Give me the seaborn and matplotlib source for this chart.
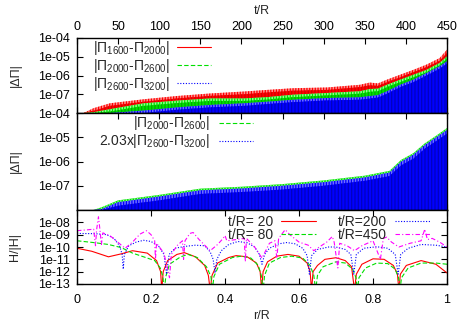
import numpy as np
import pandas as pd
import matplotlib
matplotlib.use("Agg")
import matplotlib.pyplot as plt
import seaborn as sns
from matplotlib.lines import Line2D
from matplotlib.ticker import FixedLocator, LogLocator, NullFormatter, FuncFormatter

sns.set_style("ticks")
plt.rcParams['font.family'] = ['Liberation Sans', 'DejaVu Sans']
plt.rcParams['mathtext.fontset'] = 'custom'
plt.rcParams['mathtext.rm'] = 'Liberation Sans'
plt.rcParams['mathtext.it'] = 'Liberation Sans:italic'
plt.rcParams['font.size'] = 9
plt.rcParams['hatch.linewidth'] = 0.9

# ---------------- top panel: |dPi| vs t/R (envelopes of the dense spikes) ----------------
t_top = [8, 20, 40, 81, 122, 162, 203, 231, 263, 304, 344, 356, 366, 377, 393, 409, 425, 441, 450]
red_tip = [1.0e-8, 1.8e-8, 3.3e-8, 5.4e-8, 8.1e-8, 1.1e-7, 1.4e-7, 1.7e-7, 2.1e-7, 2.3e-7,
           3.2e-7, 4.2e-7, 3.8e-7, 6.0e-7, 1.1e-6, 2.0e-6, 3.8e-6, 8.5e-6, 2.4e-5]
red_core = [1.0e-8, 1.3e-8, 2.4e-8, 4.0e-8, 6.0e-8, 8.2e-8, 1.0e-7, 1.25e-7, 1.55e-7, 1.7e-7,
            2.4e-7, 3.0e-7, 2.8e-7, 4.4e-7, 8.0e-7, 1.5e-6, 2.8e-6, 6.0e-6, 1.6e-5]
green_tip = [1.0e-8, 1.1e-8, 1.6e-8, 3.3e-8, 4.6e-8, 6.0e-8, 6.0e-8, 7.0e-8, 9.5e-8, 1.17e-7,
             1.45e-7, 1.9e-7, 2.0e-7, 3.2e-7, 6.0e-7, 1.1e-6, 2.0e-6, 4.7e-6, 1.05e-5]
green_core = [1.0e-8, 1.0e-8, 1.2e-8, 2.4e-8, 3.4e-8, 4.4e-8, 4.4e-8, 5.2e-8, 7.0e-8, 8.7e-8,
              1.07e-7, 1.35e-7, 1.45e-7, 2.4e-7, 4.4e-7, 8.0e-7, 1.5e-6, 3.5e-6, 7.8e-6]
blue_tip = [1.0e-8, 1.0e-8, 1.0e-8, 1.35e-8, 2.0e-8, 2.7e-8, 3.3e-8, 4.0e-8, 5.1e-8, 6.3e-8,
            6.9e-8, 8.0e-8, 9.0e-8, 1.45e-7, 3.2e-7, 6.0e-7, 1.35e-6, 3.1e-6, 5.8e-6]
blue_core = [1.0e-8, 1.0e-8, 1.0e-8, 1.0e-8, 1.5e-8, 2.0e-8, 2.4e-8, 3.0e-8, 3.8e-8, 4.7e-8,
             5.1e-8, 5.9e-8, 6.7e-8, 1.07e-7, 2.4e-7, 4.4e-7, 1.0e-6, 2.3e-6, 4.3e-6]

# ---------------- middle panel ----------------
t_mid = [20, 30, 50, 100, 150, 200, 250, 300, 350, 380, 394, 409, 423, 438, 450]
green_mid_tip = [1.0e-8, 1.3e-8, 2.5e-8, 4.2e-8, 7.6e-8, 9.1e-8, 1.17e-7, 1.66e-7, 2.6e-7,
                 4.1e-7, 1.15e-6, 2.2e-6, 5.6e-6, 1.23e-5, 2.4e-5]
blue_mid_tip = [1.0e-8, 1.1e-8, 2.1e-8, 3.6e-8, 6.5e-8, 7.7e-8, 1.0e-7, 1.4e-7, 2.2e-7,
                3.5e-7, 9.8e-7, 1.9e-6, 4.8e-6, 1.05e-5, 2.0e-5]
blue_mid_core = [1.0e-8, 1.0e-8, 1.5e-8, 2.5e-8, 4.6e-8, 5.5e-8, 7.0e-8, 1.0e-7, 1.6e-7,
                 2.5e-7, 6.9e-7, 1.3e-6, 3.4e-6, 7.4e-6, 1.4e-5]

# ---------------- bottom panel: H/|H| vs r/R ----------------
r_20 = [0.0, 0.04, 0.085, 0.12, 0.15, 0.19, 0.215, 0.226, 0.229, 0.233, 0.245, 0.27, 0.29, 0.32,
        0.345, 0.355, 0.36, 0.365, 0.38, 0.41, 0.43, 0.46, 0.485, 0.495, 0.499, 0.503, 0.515,
        0.54, 0.57, 0.60, 0.622, 0.63, 0.634, 0.638, 0.65, 0.67, 0.70, 0.725, 0.742, 0.75,
        0.755, 0.77, 0.80, 0.83, 0.855, 0.866, 0.870, 0.874, 0.89, 0.93, 0.97, 1.0]
h_20 = [7.9e-11, 4.5e-11, 1.6e-11, 2.8e-11, 5.0e-11, 3.2e-11, 7.9e-12, 1.0e-12, 3.2e-14, 1.0e-12,
        7.9e-12, 2.5e-11, 3.5e-11, 1.6e-11, 3.2e-12, 5.0e-13, 3.2e-14, 5.0e-13, 5.0e-12, 1.4e-11,
        2.0e-11, 1.6e-11, 5.0e-12, 1.0e-12, 3.2e-14, 1.0e-12, 6.3e-12, 1.8e-11, 2.5e-11, 1.8e-11,
        5.0e-12, 1.0e-12, 3.2e-14, 1.0e-12, 3.2e-12, 1.0e-11, 1.35e-11, 7.9e-12, 2.5e-12, 3.2e-14,
        6.3e-13, 4.0e-12, 1.1e-11, 1.0e-11, 3.2e-12, 6.3e-13, 3.2e-14, 6.3e-13, 3.2e-12, 7.9e-12,
        4.0e-12, 7.9e-13]

r_80 = [0.0, 0.05, 0.085, 0.12, 0.15, 0.18, 0.21, 0.225, 0.232, 0.236, 0.240, 0.25, 0.28, 0.30,
        0.325, 0.35, 0.362, 0.366, 0.37, 0.385, 0.42, 0.445, 0.47, 0.49, 0.498, 0.503, 0.507,
        0.52, 0.55, 0.58, 0.61, 0.63, 0.64, 0.645, 0.65, 0.665, 0.70, 0.725, 0.745, 0.754,
        0.758, 0.762, 0.78, 0.81, 0.84, 0.86, 0.869, 0.873, 0.877, 0.895, 0.93, 0.97, 1.0]
h_80 = [3.2e-10, 2.2e-10, 1.6e-10, 8.9e-11, 3.2e-11, 1.6e-11, 7.9e-12, 2.0e-12, 4.0e-13, 3.2e-14,
        4.0e-13, 4.0e-12, 1.6e-11, 2.5e-11, 1.4e-11, 2.5e-12, 4.0e-13, 3.2e-14, 4.0e-13, 4.0e-12,
        1.4e-11, 1.8e-11, 1.26e-11, 3.2e-12, 5.0e-13, 3.2e-14, 5.0e-13, 5.0e-12, 1.4e-11, 1.8e-11,
        1.26e-11, 3.2e-12, 5.0e-13, 3.2e-14, 5.0e-13, 2.5e-12, 6.3e-12, 5.0e-12, 1.6e-12, 3.2e-13,
        3.2e-14, 3.2e-13, 2.0e-12, 5.0e-12, 4.5e-12, 1.6e-12, 3.2e-13, 3.2e-14, 3.2e-13, 2.0e-12,
        5.0e-12, 5.0e-12, 4.0e-12]

r_200 = [0.0, 0.05, 0.08, 0.10, 0.115, 0.122, 0.125, 0.128, 0.14, 0.16, 0.18, 0.20, 0.22, 0.235,
         0.242, 0.249, 0.265, 0.29, 0.32, 0.345, 0.36, 0.368, 0.373, 0.378, 0.39, 0.41, 0.435,
         0.46, 0.48, 0.493, 0.5, 0.507, 0.52, 0.545, 0.567, 0.59, 0.61, 0.622, 0.628, 0.634,
         0.65, 0.68, 0.70, 0.725, 0.74, 0.748, 0.755, 0.775, 0.81, 0.84, 0.86, 0.868, 0.875,
         0.895, 0.93, 0.97, 1.0]
h_200 = [1.26e-9, 1.2e-9, 1.0e-9, 5.0e-10, 1.26e-10, 2.5e-11, 1.6e-12, 2.5e-11, 1.26e-10, 2.5e-10,
         3.5e-10, 2.8e-10, 1.26e-10, 2.5e-11, 6.3e-13, 2.5e-11, 7.9e-11, 1.1e-10, 1.4e-10, 1.26e-10,
         4.0e-11, 1.0e-11, 7.9e-13, 1.0e-11, 5.0e-11, 1.6e-10, 2.8e-10, 2.2e-10, 1.0e-10, 2.5e-11,
         4.0e-12, 2.5e-11, 7.9e-11, 1.8e-10, 2.3e-10, 1.8e-10, 7.9e-11, 2.0e-11, 6.3e-13, 2.0e-11,
         6.3e-11, 1.0e-10, 1.0e-10, 6.3e-11, 2.5e-11, 6.3e-13, 2.5e-11, 7.9e-11, 1.05e-10, 7.9e-11,
         2.5e-11, 6.3e-13, 2.5e-11, 7.9e-11, 1.6e-10, 1.4e-10, 1.0e-10]

r_450 = [0.0, 0.03, 0.045, 0.05, 0.053, 0.058, 0.062, 0.066, 0.07, 0.09, 0.11, 0.13, 0.15, 0.17,
         0.188, 0.20, 0.21, 0.212, 0.215, 0.235, 0.25, 0.255, 0.27, 0.285, 0.288, 0.292, 0.305,
         0.314, 0.33, 0.36, 0.38, 0.395, 0.40, 0.405, 0.43, 0.452, 0.455, 0.458, 0.48, 0.50,
         0.52, 0.535, 0.54, 0.545, 0.56, 0.563, 0.575, 0.60, 0.625, 0.64, 0.66, 0.675, 0.69,
         0.695, 0.705, 0.71, 0.73, 0.75, 0.77, 0.80, 0.82, 0.828, 0.837, 0.85, 0.87, 0.90,
         0.93, 0.94, 0.947, 0.96, 0.98, 1.0]
h_450 = [2.1e-9, 2.5e-9, 2.8e-9, 1.26e-10, 2.5e-9, 2.8e-8, 2.5e-9, 1.6e-10, 1.4e-9, 7.9e-10,
         2.5e-10, 7.9e-11, 2.5e-10, 1.1e-9, 2.1e-9, 1.0e-9, 3.2e-10, 1.0e-11, 2.0e-10, 3.2e-11,
         3.2e-13, 2.5e-11, 1.26e-10, 3.2e-10, 1.0e-11, 3.2e-10, 1.26e-9, 1.5e-9, 4.0e-10, 5.0e-11,
         1.6e-10, 5.0e-10, 8.5e-10, 3.2e-10, 4.0e-10, 5.0e-10, 6.3e-12, 5.0e-10, 1.0e-10, 1.26e-11,
         2.0e-10, 3.2e-10, 1.26e-11, 5.0e-10, 2.0e-9, 2.5e-9, 1.0e-9, 2.5e-10, 1.4e-10, 5.0e-11,
         1.26e-10, 2.5e-10, 7.1e-10, 2.5e-10, 2.0e-12, 2.0e-10, 1.26e-10, 5.0e-11, 1.26e-10,
         3.2e-10, 1.0e-11, 5.0e-10, 6.3e-10, 2.5e-10, 1.0e-10, 2.0e-10, 3.2e-10, 2.8e-9, 4.0e-10,
         5.0e-10, 2.5e-10, 1.0e-10]

t_ticks = [0, 50, 100, 150, 200, 250, 300, 350, 400, 450]
r_ticks = [0, 0.2, 0.4, 0.6, 0.8, 1.0]
top_yticks = [1e-7, 1e-6, 1e-5, 1e-4]
bot_yticks = [1e-13, 1e-12, 1e-11, 1e-10, 1e-9, 1e-8]

RED, GREEN, BLUE, MAG = '#ff0000', '#00e000', '#0000ff', '#ff00ff'
LIGHT = {RED: '#ff9090', GREEN: '#90ff90', BLUE: '#7070ff'}
DARK = {RED: '#d00000', GREEN: '#00a800', BLUE: '#0000c0'}
FLOOR = 1e-8
LEG_FS = 10

fig = plt.figure(figsize=(4.63, 3.24), dpi=100)
L, W = 77 / 463, 370 / 463
ax1 = fig.add_axes([L, 1 - 113 / 324, W, 75 / 324])
ax2 = fig.add_axes([L, 1 - 210 / 324, W, 97 / 324])
ax3 = fig.add_axes([L, 1 - 284 / 324, W, 74 / 324])

def efmt(v, pos=None):
    return f"{v:.0e}"

def style(ax):
    ax.set_facecolor('white')
    for s in ax.spines.values():
        s.set_linewidth(1.0)
        s.set_color('black')
        s.set_visible(True)
    ax.tick_params(which='both', direction='in', top=True, right=True, bottom=True, left=True,
                   labelsize=9, colors='black')
    ax.tick_params(axis='y', pad=5)
    ax.tick_params(which='major', length=4, width=0.8)
    ax.tick_params(which='minor', length=2, width=0.6)

for ax in (ax1, ax2):
    ax.set_yscale('log')
    ax.set_ylim(1e-8, 1e-4)
    ax.set_xlim(0, 450)
    ax.xaxis.set_major_locator(FixedLocator(t_ticks))
    ax.yaxis.set_major_locator(FixedLocator(top_yticks))
    ax.yaxis.set_major_formatter(FuncFormatter(efmt))
    ax.yaxis.set_minor_locator(LogLocator(base=10, subs=np.arange(2, 10)))
    ax.yaxis.set_minor_formatter(NullFormatter())
    style(ax)

def band(ax, t, tip, core, col, hatch='|||||'):
    ax.fill_between(t, FLOOR, tip, facecolor=LIGHT[col], edgecolor=col, hatch='||||||', lw=0)
    ax.fill_between(t, FLOOR, core, facecolor=col, edgecolor=DARK[col], hatch=hatch, lw=0)

# top panel bands
band(ax1, t_top, red_tip, red_core, RED)
band(ax1, t_top, green_tip, green_core, GREEN)
band(ax1, t_top, blue_tip, blue_core, BLUE)
ax1.tick_params(labelbottom=False, labeltop=True)
ax1.xaxis.set_label_position('top')
ax1.set_xlabel('t/R', fontsize=9, labelpad=5)
ax1.set_ylabel('|ΔΠ|', fontsize=9)
ax1.yaxis.set_label_coords(-0.15, 0.5)
h1 = [Line2D([0], [0], color=RED, lw=0.8),
      Line2D([0], [0], color=GREEN, lw=0.8, linestyle=(0, (4, 2))),
      Line2D([0], [0], color=BLUE, lw=0.8, linestyle=(0, (1, 1.5)))]
ax1.legend(h1, ['|Π$_{1600}$-Π$_{2000}$|', '|Π$_{2000}$-Π$_{2600}$|', '|Π$_{2600}$-Π$_{3200}$|'],
           loc='upper left', bbox_to_anchor=(0.035, 1.02), frameon=False, markerfirst=False,
           handlelength=2.5, handletextpad=0.5, labelspacing=-0.02, borderpad=0.2,
           borderaxespad=0, fontsize=LEG_FS)

# middle panel bands
ax2.fill_between(t_mid, FLOOR, green_mid_tip, facecolor=GREEN, edgecolor=LIGHT[GREEN],
                 hatch='||||||', lw=0)
ax2.fill_between(t_mid, FLOOR, blue_mid_tip, facecolor=LIGHT[BLUE], edgecolor=BLUE,
                 hatch='||||||', lw=0)
ax2.fill_between(t_mid, FLOOR, blue_mid_core, facecolor=BLUE, edgecolor=DARK[BLUE],
                 hatch='|||||', lw=0)
ax2.tick_params(labelbottom=False, labeltop=False)
ax2.set_ylabel('|ΔΠ|', fontsize=9)
ax2.yaxis.set_label_coords(-0.15, 0.5)
h2 = [Line2D([0], [0], color=GREEN, lw=0.8, linestyle=(0, (4, 2))),
      Line2D([0], [0], color=BLUE, lw=0.8, linestyle=(0, (1, 1.5)))]
ax2.legend(h2, ['|Π$_{2000}$-Π$_{2600}$|', '2.03x|Π$_{2600}$-Π$_{3200}$|'],
           loc='upper left', bbox_to_anchor=(0.055, 1.0), frameon=False, markerfirst=False,
           handlelength=2.4, handletextpad=0.7, labelspacing=0.0, borderpad=0.1,
           borderaxespad=0, fontsize=LEG_FS)

# bottom panel curves
curves = [(r_20, h_20, RED, '-', 't/R= 20'), (r_80, h_80, GREEN, (0, (4, 2)), 't/R= 80'),
          (r_200, h_200, BLUE, (0, (1, 1.5)), 't/R=200'), (r_450, h_450, MAG, (0, (4, 2, 1, 2)), 't/R=450')]
for rr, hh, col, ls, lab in curves:
    sns.lineplot(x=rr, y=hh, ax=ax3, color=col, linestyle=ls, lw=0.8, label=lab,
                 estimator=None, sort=False)
ax3.set_yscale('log')
ax3.set_ylim(1e-13, 1e-7)
ax3.set_xlim(0, 1)
ax3.xaxis.set_major_locator(FixedLocator(r_ticks))
ax3.xaxis.set_major_formatter(FuncFormatter(lambda v, p: f"{v:g}"))
ax3.yaxis.set_major_locator(FixedLocator(bot_yticks))
ax3.yaxis.set_major_formatter(FuncFormatter(efmt))
ax3.yaxis.set_minor_locator(LogLocator(base=10, subs=np.arange(2, 10)))
ax3.yaxis.set_minor_formatter(NullFormatter())
style(ax3)
ax3.tick_params(axis='x', pad=7)
ax3.set_xlabel('r/R', fontsize=9, labelpad=3)
ax3.set_ylabel('H/|H|', fontsize=9)
ax3.yaxis.set_label_coords(-0.15, 0.5)
ax3.legend(loc='upper left', bbox_to_anchor=(0.405, 0.95), ncol=2, frameon=False, markerfirst=False,
           handlelength=2.5, handletextpad=0.55, labelspacing=-0.1, columnspacing=1.6,
           borderpad=0.1, borderaxespad=0, fontsize=LEG_FS)

fig.savefig('out.png', dpi=100)
